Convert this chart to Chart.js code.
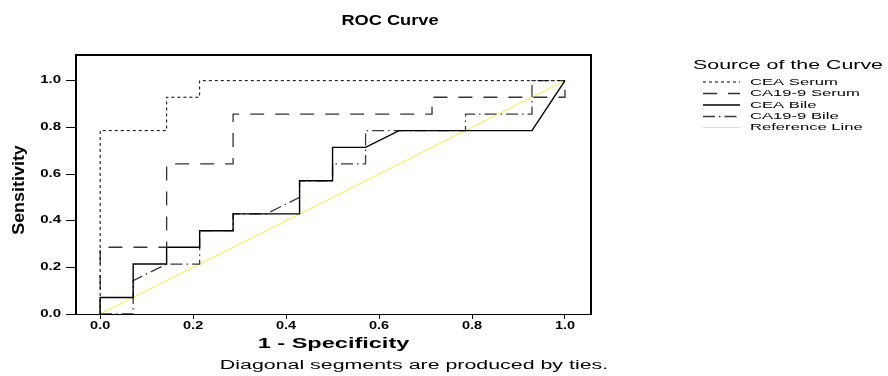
<!DOCTYPE html>
<html>
<head>
<meta charset="utf-8">
<script src="https://cdn.jsdelivr.net/npm/chart.js@4.4.1/dist/chart.umd.min.js"></script>
<style>
  html, body { margin: 0; padding: 0; background: #ffffff; }
  #wrap { width: 888px; height: 376px; position: relative; }
</style>
</head>
<body>
<div id="wrap"><canvas id="c" width="888" height="376"></canvas></div>
<script>
// ---------- data (1 - specificity, sensitivity) ----------
const ceaSerumX   = [0, 0, 0.143, 0.143, 0.214, 0.214, 1];
const ceaSerumY   = [0, 0.786, 0.786, 0.929, 0.929, 1, 1];

const ca199SerumX = [0, 0, 0.143, 0.143, 0.286, 0.286, 0.714, 0.714, 1, 1];
const ca199SerumY = [0, 0.286, 0.286, 0.643, 0.643, 0.857, 0.857, 0.929, 0.929, 1];

const ceaBileX    = [0, 0, 0.071, 0.071, 0.143, 0.143, 0.214, 0.214, 0.286, 0.286, 0.429, 0.429, 0.5, 0.5, 0.571, 0.643, 0.929, 1];
const ceaBileY    = [0, 0.071, 0.071, 0.214, 0.214, 0.286, 0.286, 0.357, 0.357, 0.429, 0.429, 0.571, 0.571, 0.714, 0.714, 0.786, 0.786, 1];

const ca199BileX  = [0, 0.071, 0.071, 0.143, 0.214, 0.214, 0.286, 0.286, 0.357, 0.429, 0.429, 0.5, 0.5, 0.571, 0.571, 0.786, 0.786, 0.929, 0.929, 1];
const ca199BileY  = [0, 0, 0.143, 0.214, 0.214, 0.357, 0.357, 0.429, 0.429, 0.5, 0.571, 0.571, 0.643, 0.643, 0.786, 0.786, 0.857, 0.857, 1, 1];

const refX = [0, 1];
const refY = [0, 1];

const seriesNames = ['CEA Serum', 'CA19-9 Serum', 'CEA Bile', 'CA19-9 Bile', 'Reference Line'];

const xTickValues = [0, 0.2, 0.4, 0.6, 0.8, 1.0];
const xTickLabels = ['0.0', '0.2', '0.4', '0.6', '0.8', '1.0'];
const yTickValues = [0, 0.2, 0.4, 0.6, 0.8, 1.0];
const yTickLabels = ['0.0', '0.2', '0.4', '0.6', '0.8', '1.0'];

const chartTitle = 'ROC Curve';
const xTitle = '1 - Specificity';
const yTitle = 'Sensitivity';
const legendTitle = 'Source of the Curve';
const footnote = 'Diagonal segments are produced by ties.';

// ---------- helpers ----------
function pts(xs, ys) { return xs.map((x, i) => ({ x: x, y: ys[i] })); }

const FONT = '"Liberation Sans", Arial, sans-serif';

function sText(ctx, str, x, y, font, sx, align, baseline) {
  ctx.save();
  ctx.font = font;
  ctx.fillStyle = '#000';
  ctx.textBaseline = baseline || 'middle';
  ctx.textAlign = 'left';
  const w = ctx.measureText(str).width * sx;
  let x0 = x;
  if (align === 'center') x0 = x - w / 2;
  else if (align === 'right') x0 = x - w;
  ctx.translate(x0, y);
  ctx.scale(sx, 1);
  ctx.fillText(str, 0, 0);
  ctx.restore();
}

const decor = {
  id: 'decor',
  beforeDraw(chart) {
    const ctx = chart.ctx;
    ctx.save();
    ctx.fillStyle = '#fff';
    ctx.fillRect(0, 0, chart.width, chart.height);
    ctx.restore();
  },
  afterDraw(chart) {
    const ctx = chart.ctx;
    const a = chart.chartArea;
    const xs = chart.scales.x, ys = chart.scales.y;
    // frame top and right
    ctx.save();
    ctx.strokeStyle = '#000';
    ctx.lineWidth = 2;
    ctx.beginPath();
    ctx.moveTo(a.left, a.top);
    ctx.lineTo(a.right, a.top);
    ctx.lineTo(a.right, a.bottom);
    ctx.stroke();
    ctx.restore();

    // tick labels
    const tickFont = 'bold 10px ' + FONT;
    xTickValues.forEach((v, i) => {
      sText(ctx, xTickLabels[i], xs.getPixelForValue(v), 326, tickFont, 1.45, 'center', 'middle');
    });
    yTickValues.forEach((v, i) => {
      sText(ctx, yTickLabels[i], 61, ys.getPixelForValue(v), tickFont, 1.5, 'right', 'middle');
    });

    // titles
    sText(ctx, chartTitle, 390, 21, 'bold 14px ' + FONT, 1.3, 'center', 'middle');
    sText(ctx, xTitle, (a.left + a.right) / 2, 344, 'bold 14px ' + FONT, 1.68, 'center', 'middle');
    ctx.save();
    ctx.translate(24, 190);
    ctx.rotate(-Math.PI / 2);
    sText(ctx, yTitle, 0, 0, 'bold 16px "Liberation Sans Narrow", ' + FONT, 1.12, 'center', 'alphabetic');
    ctx.restore();
    sText(ctx, footnote, 414, 366, '12px ' + FONT, 1.78, 'center', 'middle');

    // legend
    sText(ctx, legendTitle, 693, 66, '12px ' + FONT, 1.78, 'left', 'middle');
    const rowY = [82, 93.5, 105, 116.5, 127.5];
    chart.data.datasets.forEach((ds, i) => {
      const y = rowY[i];
      ctx.save();
      ctx.strokeStyle = ds.borderColor;
      ctx.lineWidth = ds.borderWidth;
      ctx.setLineDash(ds.borderDash || []);
      ctx.beginPath();
      ctx.moveTo(703, y);
      ctx.lineTo(740, y);
      ctx.stroke();
      ctx.restore();
      sText(ctx, ds.label, 750, y, '9.5px ' + FONT, 1.75, 'left', 'middle');
    });
  }
};

const X_MIN = -0.052, X_MAX = 1.056, Y_MIN = 0, Y_MAX = 1.11;

const chart = new Chart(document.getElementById('c'), {
  type: 'line',
  data: {
    datasets: [
      { label: seriesNames[0], data: pts(ceaSerumX, ceaSerumY), borderColor: '#000', borderWidth: 1, borderDash: [3, 3] },
      { label: seriesNames[1], data: pts(ca199SerumX, ca199SerumY), borderColor: '#333', borderWidth: 1.3, borderDash: [14, 11] },
      { label: seriesNames[2], data: pts(ceaBileX, ceaBileY), borderColor: '#000', borderWidth: 1.4, borderDash: [] },
      { label: seriesNames[3], data: pts(ca199BileX, ca199BileY), borderColor: '#3a3a3a', borderWidth: 1.3, borderDash: [12, 4, 1.5, 4] },
      { label: seriesNames[4], data: pts(refX, refY), borderColor: '#f0f040', borderWidth: 1, borderDash: [] }
    ]
  },
  options: {
    responsive: false,
    animation: false,
    devicePixelRatio: 1,
    layout: { padding: { left: 0, top: 55, right: 297, bottom: 0 } },
    elements: {
      line: { tension: 0, fill: false },
      point: { radius: 0, hoverRadius: 0 }
    },
    plugins: { legend: { display: false }, title: { display: false }, tooltip: { enabled: false } },
    scales: {
      x: {
        type: 'linear',
        position: 'bottom',
        min: X_MIN, max: X_MAX,
        afterBuildTicks: s => { s.ticks = xTickValues.map(v => ({ value: v })); },
        afterFit: s => { s.height = 62; },
        ticks: { display: false },
        grid: { drawOnChartArea: false, drawTicks: true, tickLength: 5, tickColor: '#000', tickWidth: 1 },
        border: { display: true, color: '#000', width: 1 }
      },
      y: {
        type: 'linear',
        position: 'left',
        min: Y_MIN, max: Y_MAX,
        afterBuildTicks: s => { s.ticks = yTickValues.map(v => ({ value: v })); },
        afterFit: s => { s.width = 76; },
        ticks: { display: false },
        grid: { drawOnChartArea: false, drawTicks: true, tickLength: 10, tickColor: '#000', tickWidth: 1 },
        border: { display: true, color: '#000', width: 2 }
      }
    }
  },
  plugins: [decor]
});
</script>
</body>
</html>
